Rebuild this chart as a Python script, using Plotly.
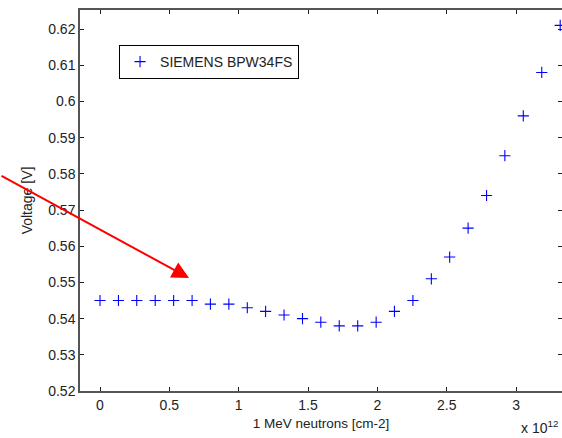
import plotly.graph_objects as go

# Fluence in units of 1e12 cm^-2
fluence = [0.0, 0.133, 0.265, 0.398, 0.531, 0.664, 0.796, 0.929, 1.062, 1.194,
           1.327, 1.460, 1.592, 1.725, 1.858, 1.991, 2.123, 2.256, 2.389, 2.521,
           2.654, 2.787, 2.919, 3.052, 3.185, 3.318]
voltage = [0.545, 0.545, 0.545, 0.545, 0.545, 0.545, 0.544, 0.544, 0.543, 0.542,
           0.541, 0.540, 0.539, 0.538, 0.538, 0.539, 0.542, 0.545, 0.551, 0.557,
           0.565, 0.574, 0.585, 0.596, 0.608, 0.621]

x_ticks = [0, 0.5, 1, 1.5, 2, 2.5, 3]
x_tick_text = ["0", "0.5", "1", "1.5", "2", "2.5", "3"]
y_ticks = [0.52, 0.53, 0.54, 0.55, 0.56, 0.57, 0.58, 0.59, 0.60, 0.61, 0.62]
y_tick_text = ["0.52", "0.53", "0.54", "0.55", "0.56", "0.57", "0.58", "0.59",
               "0.6", "0.61", "0.62"]

FONT = "Liberation Sans, Arial, sans-serif"
AX = "#555555"
TXT = "#222222"

fig = go.Figure()
fig.add_trace(go.Scatter(
    x=fluence, y=voltage, mode="markers", name="SIEMENS BPW34FS",
    marker=dict(symbol="cross-thin", size=8, color="#0000ff",
                line=dict(width=1.1, color="#0000ff")),
    cliponaxis=False,
))

axis_common = dict(
    showline=True, linecolor=AX, linewidth=1.5, mirror="allticks",
    ticks="inside", ticklen=4, tickcolor="#222222", tickwidth=1,
    showgrid=False, zeroline=False,
    tickfont=dict(family=FONT, size=14, color=TXT),
)

fig.update_xaxes(range=[-0.1442, 3.331], tickvals=x_ticks, ticktext=x_tick_text,
                 title=dict(text="1 MeV neutrons [cm-2]", standoff=7,
                            font=dict(family=FONT, size=13.5, color=TXT)),
                 **axis_common)
fig.update_yaxes(range=[0.52, 0.62525], tickvals=y_ticks, ticktext=y_tick_text,
                 title=dict(text="Voltage [V]", standoff=12,
                            font=dict(family=FONT, size=14, color=TXT)),
                 **axis_common)

fig.add_annotation(
    x=0.642, y=0.5512, xref="x", yref="y", ax=-189, ay=-103,
    text="", showarrow=True, arrowhead=2, arrowsize=1.7, arrowwidth=2,
    arrowcolor="#ff0000",
)
fig.add_annotation(
    x=1.0, y=0, xref="paper", yref="paper", xanchor="right", yanchor="top",
    xshift=-2, yshift=-25,
    text="x 10<sup>12</sup>", showarrow=False,
    font=dict(family=FONT, size=14, color=TXT),
)

fig.update_layout(
    width=562, height=438,
    margin=dict(l=80, r=0, t=10, b=47, autoexpand=False),
    paper_bgcolor="white", plot_bgcolor="white",
    showlegend=True,
    legend=dict(x=0.081, y=0.908, xanchor="left", yanchor="top",
                bordercolor="#000000", borderwidth=1, bgcolor="white",
                font=dict(family=FONT, size=14, color=TXT)),
)

fig.write_html("out.html")
